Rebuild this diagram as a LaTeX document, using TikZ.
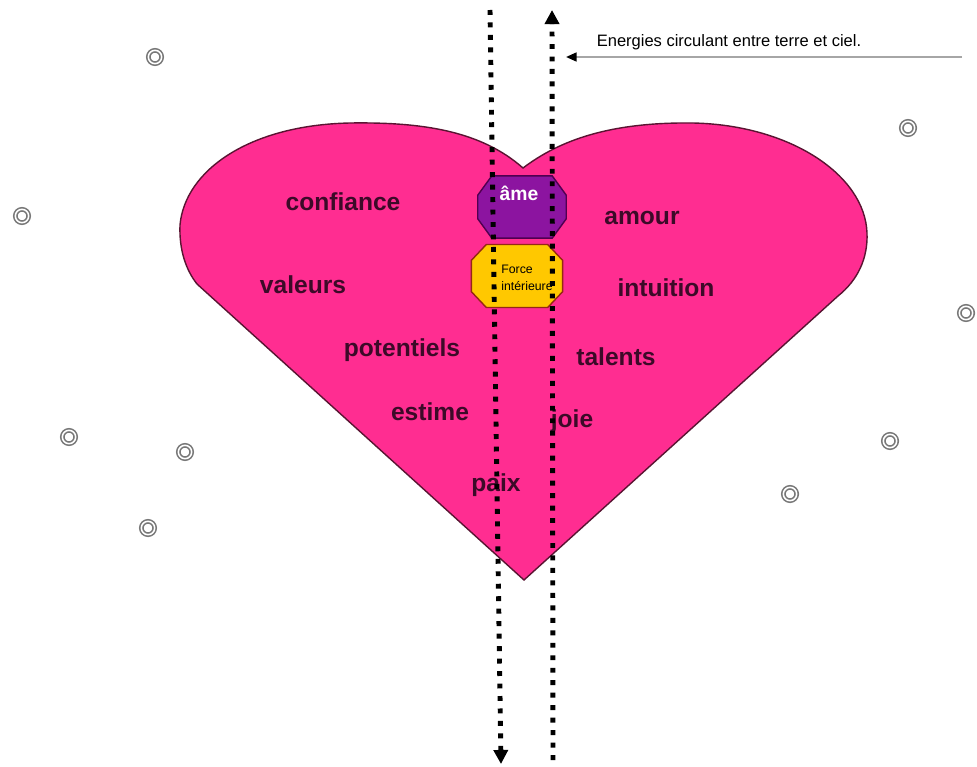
\documentclass[tikz,border=0pt]{standalone}
\usepackage{fontspec}
\setmainfont{Liberation Sans}
\usepackage{xcolor}
\usetikzlibrary{arrows.meta,positioning}

\definecolor{heartpink}{RGB}{255,45,145}
\definecolor{heartline}{RGB}{90,20,50}
\definecolor{wordcol}{RGB}{60,10,40}
\definecolor{amepurple}{RGB}{140,20,160}
\definecolor{ameline}{RGB}{80,0,80}
\definecolor{forceyellow}{RGB}{255,200,0}
\definecolor{forceline}{RGB}{150,40,20}
\definecolor{ringgray}{RGB}{120,120,120}

\begin{document}
\begin{tikzpicture}[
  x=0.02cm, y=-0.02cm,
  word/.style={font=\fontsize{14}{16}\selectfont\bfseries, text=wordcol,
               inner sep=0pt},
  octobox/.style={rectangle, inner sep=0pt},
  ring/.style={circle, draw=ringgray, line width=0.9pt, double=white,
               double distance=0.9pt, minimum size=7.6pt, inner sep=0pt},
  flow/.style={line width=2.8pt, dash pattern=on 2.8pt off 4.3pt,
               -{Triangle[length=8pt,width=8pt]}},
  notearr/.style={draw=gray!70, line width=1.2pt,
                  -{Triangle[length=6pt,width=5pt,color=black]}}
]
\useasboundingbox (0,0) rectangle (977,767);
%% ── Heart ───────────────────────────────────────────────────────────────
\filldraw[fill=heartpink, draw=heartline, line width=0.8pt]
  (523,168) .. controls (480,130) and (420,122) .. (350,123)
  .. controls (250,125) and (185,170) .. (180,225)
  .. controls (179,250) and (186,270) .. (197,284)
  -- (524,580) -- (838,296)
  .. controls (858,280) and (868,258) .. (867,233)
  .. controls (865,175) and (790,125) .. (693,123)
  .. controls (610,122) and (560,140) .. (523,168) -- cycle;
%% ── Octagons (centre) ───────────────────────────────────────────────────
\node[octobox, minimum width=50pt, minimum height=35pt] (ame)   at (522,207) {};
\node[octobox, minimum width=51.5pt, minimum height=35.5pt] (force) at (517,276) {};
\foreach \n/\f/\d/\cx/\cy in {ame/amepurple/ameline/8pt/11pt,
                              force/forceyellow/forceline/8.5pt/9pt}
  \filldraw[fill=\f, draw=\d, line width=0.8pt]
    ([xshift=\cx]\n.north west) -- ([xshift=-\cx]\n.north east)
    -- ([yshift=-\cy]\n.north east) -- ([yshift=\cy]\n.south east)
    -- ([xshift=-\cx]\n.south east) -- ([xshift=\cx]\n.south west)
    -- ([yshift=\cy]\n.south west) -- ([yshift=-\cy]\n.north west) -- cycle;
\node[font=\fontsize{11}{13}\selectfont\bfseries, text=white]
  (ametxt) at (519,193) {âme};
\node[font=\fontsize{7}{9.6}\selectfont, align=left, inner sep=0pt]
  (forcetxt) at (527,278) {Force\\intérieure};
%% ── Words, left half ────────────────────────────────────────────────────
\node[word] (confiance)  at (343,202) {confiance};
\node[word] (valeurs)    at (303,285) {valeurs};
\node[word] (potentiels) at (402,350) {potentiels};
\node[word] (estime)     at (430,412) {estime};
\node[word] (paix)       at (496,485) {paix};
%% ── Words, right half ───────────────────────────────────────────────────
\node[word] (amour)     at (642,218) {amour};
\node[word] (intuition) at (666,288) {intuition};
\node[word] (talents)   at (616,357) {talents};
\node[word] (joie)      at (572,421) {joie};
%% ── Small rings ─────────────────────────────────────────────────────────
\foreach \x/\y [count=\i] in {155/57, 908/128, 22/216, 966/313, 69/437,
                              185/452, 890/441, 790/494, 148/528}
  \node[ring] (ring\i) at (\x,\y) {};
%% ── Flows between earth and sky ─────────────────────────────────────────
\coordinate (downTop) at (490,10);
\coordinate (downBot) at (501,764);
\coordinate (upBot)   at (553,760);
\coordinate (upTop)   at (552,10);
\draw[flow] (downTop) -- (downBot);
\draw[flow] (upBot) -- (upTop);
%% ── Note ────────────────────────────────────────────────────────────────
\node[font=\fontsize{9.4}{11}\selectfont] (note) at (729,42)
  {Energies circulant entre terre et ciel.};
\coordinate (noteFrom) at (962,57);
\coordinate (noteTo)   at (566,57);
\draw[notearr] (noteFrom) -- (noteTo);
\end{tikzpicture}
\end{document}
